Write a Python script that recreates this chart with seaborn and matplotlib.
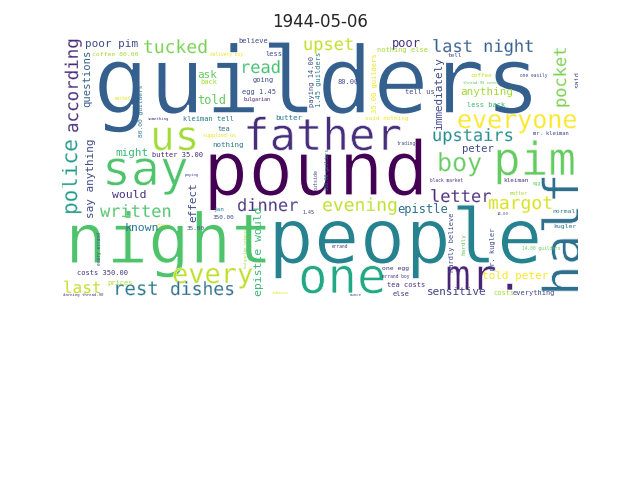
import matplotlib
matplotlib.use("Agg")
import matplotlib.pyplot as plt
import matplotlib.patheffects as pe
import seaborn as sns

sns.set_style("white")

title = "1944-05-06"

# ---- horizontal words: text, size (em px), viridis colour position
h_words = ["guilders", "pound", "people", "night", "father", "say", "us", "one", "mr.", "pim",
           "boy", "everyone", "upstairs", "last night", "tucked", "upset", "read", "letter",
           "margot", "evening", "dinner", "epistle", "written", "would", "known", "rest",
           "dishes", "last", "every", "told peter", "sensitive", "anything", "peter", "poor pim",
           "poor", "ask", "told", "might", "nothing", "butter 35.00", "kleiman tell", "tea",
           "supplied us", "coffee 80.00", "delivery boy", "back", "market", "something",
           "believe", "less", "going", "egg 1.45", "bulgarian", "80.00", "butter",
           "said nothing", "nothing else", "tell", "coffee", "thread-90 cents", "one easily",
           "tell us", "less back", "mr. kleiman", "trading", "black market", "kleiman", "egg",
           "matter", "14.00", "normal", "kugler", "14.00 guilders", "costs", "everything",
           "tea costs", "else", "errand boy", "one egg", "errand", "ounce", "tobacco",
           "costs 350.00", "prices", "darning thread-90", "jan", "350.00", "35.00", "after",
           "paying", "1.45"]
h_size = [93, 75, 76, 69, 44, 48, 41, 49, 43, 46,
          25, 25, 17, 17, 18, 17, 17, 17,
          18, 18, 17, 12, 17, 11.5, 11.5, 19,
          18, 16, 27, 11, 11, 11, 10.5, 11,
          12, 11, 12, 11, 7.5, 7, 7, 7,
          5, 6.5, 4.5, 7, 4.5, 4,
          7, 7, 7, 7, 5, 7, 7.5,
          6, 7, 6, 6, 4, 4.5,
          7, 7, 5.5, 4.5, 4.5, 6, 4.5,
          5, 4, 6.5, 6.5, 4.5, 7, 7,
          7, 7, 4.5, 6.5, 4.5, 4, 4,
          7, 7, 4, 6, 6, 6, 4,
          4, 5]
h_color = [0.30, 0.0, 0.44, 0.72, 0.13, 0.72, 0.86, 0.60, 0.10, 0.76,
           0.76, 1.0, 0.48, 0.30, 0.80, 0.91, 0.70, 0.12,
           0.94, 0.90, 0.15, 0.36, 0.72, 0.15, 0.40, 0.40,
           0.36, 0.91, 0.90, 1.0, 0.20, 0.86, 0.23, 0.23,
           0.15, 0.76, 0.76, 0.68, 0.40, 0.12, 0.40, 0.40,
           0.97, 0.86, 0.97, 0.86, 0.97, 0.15,
           0.23, 0.23, 0.23, 0.23, 0.08, 0.23, 0.40,
           0.97, 0.86, 0.23, 0.91, 0.76, 0.23,
           0.23, 0.68, 0.23, 0.23, 0.15, 0.15, 0.76,
           0.86, 0.23, 0.40, 0.36, 0.76, 0.86, 0.23,
           0.15, 0.15, 0.15, 0.15, 0.15, 0.23, 0.97,
           0.15, 0.86, 0.15, 0.40, 0.23, 0.23, 0.97,
           0.23, 0.15]
# layout: left edge x, baseline y (pixels of the cloud image area)
h_x = [93, 203, 268, 65, 243, 102, 150, 298, 445, 493,
       437, 457, 432, 432, 143, 303, 240, 430,
       488, 322, 237, 397, 100, 112, 125, 113,
       170, 63, 172, 482, 427, 460, 462, 85,
       392, 197, 197, 115, 212, 152, 183, 218,
       203, 92, 210, 200, 115, 148,
       238, 265, 253, 242, 243, 337, 275,
       365, 377, 448, 470, 463, 520,
       405, 467, 533, 397, 430, 503, 533,
       510, 497, 552, 553, 522, 493, 513,
       387, 393, 382, 382, 332, 350, 272,
       77, 107, 63, 213, 213, 187, 157,
       185, 302]
h_y = [113, 195, 263, 263, 150, 185, 150, 293, 290, 175,
       171, 128, 141, 52, 53, 50, 73, 202,
       209, 211, 211, 213, 217, 198, 231, 295,
       295, 293, 283, 279, 295, 95, 152, 47,
       47, 78, 104, 156, 147, 157, 121, 131,
       137, 56, 56, 84, 100, 120,
       43, 56, 82, 94, 101, 84, 120,
       120, 52, 57, 77, 84, 77,
       94, 107, 135, 145, 182, 182, 185,
       195, 215, 213, 228, 250, 295, 295,
       287, 296, 278, 270, 248, 296, 294,
       275, 285, 296, 211, 219, 230, 226,
       176, 214]

# ---- vertical words (read bottom to top)
v_words = ["according", "questions", "police", "say anything", "80.00 guilders", "effect",
           "epistle would", "bulgarian tobacco", "every errand", "immediately", "pocket",
           "said", "paying 14.00", "1.45 guilders", "35.00 guilders", "half",
           "hardly believe", "hardly", "mr. kugler", "outside", "350.00 guilders"]
v_size = [17.5, 10.5, 21, 11, 6.3, 11, 11.5, 4, 4.5, 11, 17, 7, 7, 7, 7.2, 51,
          7, 6, 7, 5, 4.5]
v_color = [0.12, 0.30, 0.54, 0.23, 0.40, 0.23, 0.68, 0.86, 0.23, 0.23, 0.80, 0.23,
           0.23, 0.40, 0.97, 0.36, 0.23, 0.76, 0.23, 0.23, 0.40]
# layout: baseline x, bottom y
v_x = [78, 90.5, 77, 94.5, 143.5, 196, 262, 247, 101, 442.5, 566, 579, 314, 320.5, 377,
       580, 454, 465, 495, 318, 329]
v_y = [133, 107, 215, 218, 137, 222, 296, 268, 265, 130, 108, 88, 107, 107, 113, 296,
       272, 255, 270, 190, 190]

cmap = sns.color_palette("viridis", as_cmap=True)

fig = plt.figure(figsize=(6.4, 4.8), dpi=100)
ax = fig.add_axes([62 / 640, 183 / 480, 516 / 640, 262 / 480])
ax.set_xlim(62, 578)
ax.set_ylim(297, 35)
ax.axis("off")

PX2PT = 72 / 100


def effects(size):
    # thin the heavy glyph strokes of large words slightly (lighter face in the reference)
    if size < 14:
        return []
    return [pe.Normal(), pe.Stroke(linewidth=2 * 0.008 * size * PX2PT, foreground="white")]


for w, x, y, s, c in zip(h_words, h_x, h_y, h_size, h_color):
    ax.text(x, y, w, fontsize=s * PX2PT, family="DejaVu Sans Mono", color=cmap(c),
            ha="left", va="baseline", rotation_mode="anchor", clip_on=True,
            path_effects=effects(s), zorder=3 - s / 100)
for w, x, y, s, c in zip(v_words, v_x, v_y, v_size, v_color):
    ax.text(x, y, w, fontsize=s * PX2PT, family="DejaVu Sans Mono", color=cmap(c),
            ha="left", va="baseline", rotation=90, rotation_mode="anchor", clip_on=True,
            path_effects=effects(s), zorder=3 - s / 100)

ax.set_title(title, fontsize=12)
fig.savefig("out.png", dpi=100, facecolor="white")
